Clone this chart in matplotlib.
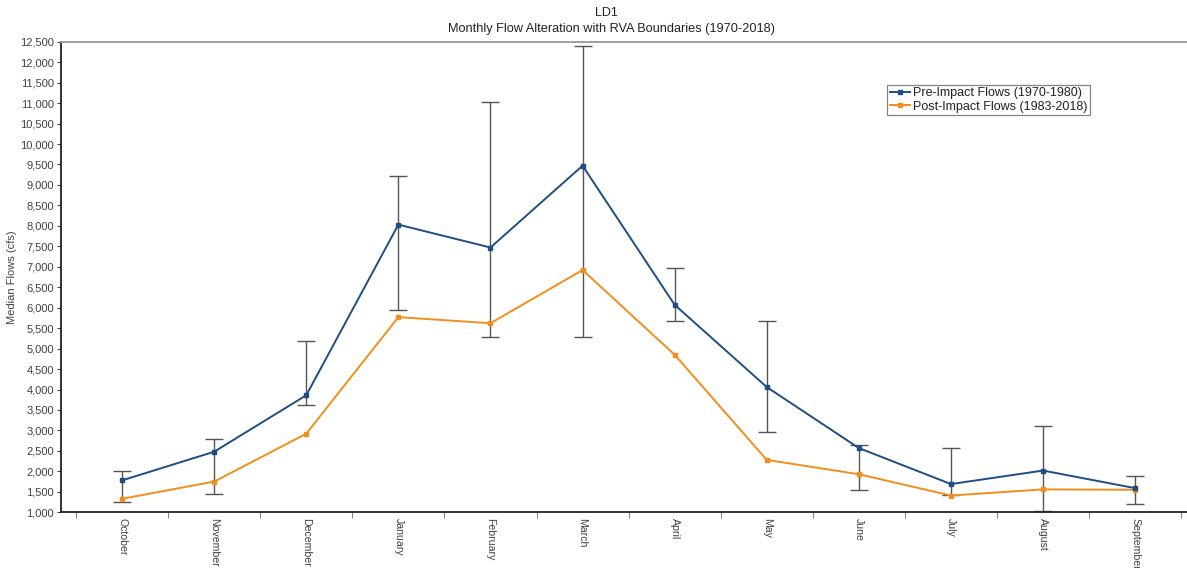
import matplotlib
matplotlib.use("Agg")
import matplotlib.pyplot as plt
import numpy as np
from matplotlib.ticker import FuncFormatter, MultipleLocator, FixedLocator

plt.rcParams['font.family'] = ['Liberation Sans', 'DejaVu Sans']

months = ["October", "November", "December", "January", "February", "March",
          "April", "May", "June", "July", "August", "September"]

pre_impact = [1780, 2480, 3860, 8030, 7470, 9470, 6070, 4060, 2570, 1690, 2020, 1590]
post_impact = [1330, 1750, 2920, 5770, 5620, 6920, 4850, 2280, 1930, 1410, 1560, 1550]

rva_low = [1240, 1450, 3610, 5940, 5280, 5280, 5680, 2970, 1550, 1420, 1020, 1200]
rva_high = [2000, 2780, 5190, 9210, 11020, 12390, 6970, 5670, 2640, 2570, 3120, 1890]

blue = "#1f4e82"
orange = "#f28e1c"
text_grey = "#404040"

fig = plt.figure(figsize=(11.87, 5.68), dpi=100)
ax = fig.add_axes([61 / 1187, 1 - 512.3 / 568, 1 - 61 / 1187, (512.3 - 41.7) / 568])

x = np.arange(len(months))
pre = np.array(pre_impact)
lo = np.array(rva_low)
hi = np.array(rva_high)

ax.errorbar(x, pre, yerr=[pre - lo, hi - pre], fmt="none", ecolor="#555555",
            elinewidth=1.0, capsize=6.5, capthick=1.0, zorder=2)
ax.plot(x, post_impact, color=orange, lw=1.4, marker="s", ms=3,
        label="Post-Impact Flows (1983-2018)", zorder=3)
ax.plot(x, pre_impact, color=blue, lw=1.4, marker="s", ms=3,
        label="Pre-Impact Flows (1970-1980)", zorder=4)

ax.set_xlim(-0.663, 11.563)
ax.set_ylim(1000, 12500)

ax.yaxis.set_major_locator(MultipleLocator(500))
ax.yaxis.set_major_formatter(FuncFormatter(lambda v, p: f"{int(v):,}"))
ax.tick_params(axis="y", labelsize=8, colors=text_grey, length=3, width=0.8, pad=2)

ax.set_xticks(x)
ax.set_xticklabels(months, rotation=270, fontsize=7.6, color=text_grey)
ax.xaxis.set_minor_locator(FixedLocator(np.arange(-0.5, 12.0, 1.0)))
ax.tick_params(axis="x", which="major", length=0, pad=4)
ax.tick_params(axis="x", which="minor", length=4, color="#888888", width=0.8)

ax.set_ylabel("Median Flows (cfs)", fontsize=8, color=text_grey)
ax.yaxis.set_label_coords((17 - 61) / 1126, 0.5)

for side in ("left", "bottom"):
    ax.spines[side].set_color("#222222")
    ax.spines[side].set_linewidth(1.3)
ax.spines["top"].set_color("#999999")
ax.spines["top"].set_linewidth(1.3)
ax.spines["right"].set_visible(False)

handles, labels = ax.get_legend_handles_labels()
leg = ax.legend(handles[::-1], labels[::-1], loc="upper left",
                bbox_to_anchor=((887 - 61) / 1126, 1 - (85 - 41.7) / 470.6),
                fontsize=9, frameon=True, fancybox=False, borderpad=0.2,
                handlelength=1.6, handletextpad=0.3, labelspacing=0.1,
                borderaxespad=0, markerscale=0.8)
leg.get_frame().set_edgecolor("#666666")
leg.get_frame().set_linewidth(0.9)
for t in leg.get_texts():
    t.set_color("#222222")

fig.text(606 / 1187, 1 - 13 / 568, "LD1", ha="center", va="center",
         fontsize=9, color="#222222")
fig.text(612 / 1187, 1 - 29 / 568,
         "Monthly Flow Alteration with RVA Boundaries (1970-2018)",
         ha="center", va="center", fontsize=9.2, color="#222222")

fig.savefig("out.png", dpi=100)
